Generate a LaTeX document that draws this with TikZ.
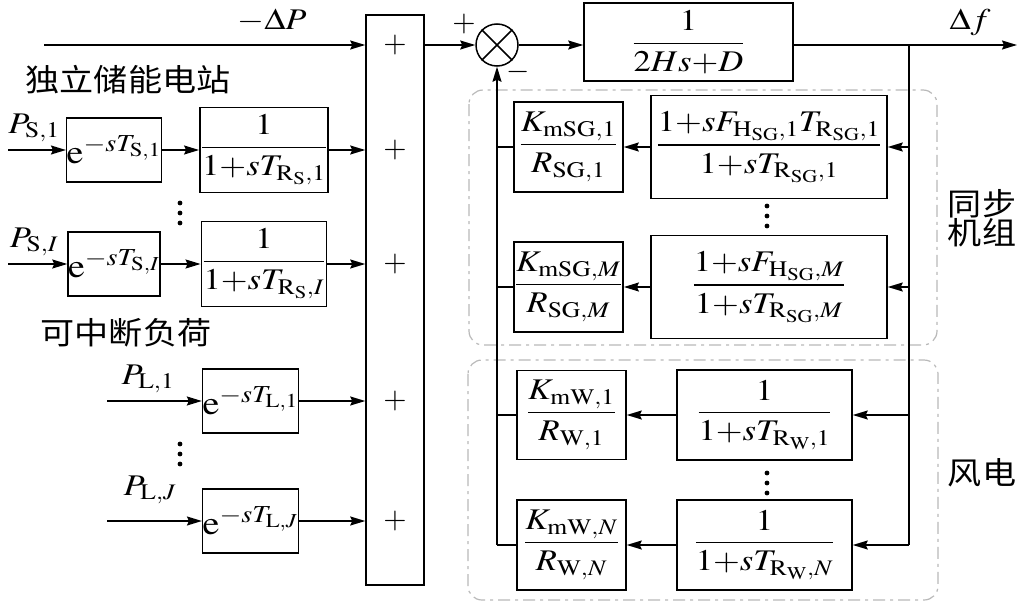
\documentclass[tikz,border=0pt]{standalone}
\usepackage{amsmath}
\usepackage{mathptmx}
\usepackage[no-math]{fontspec}
\usepackage{graphicx}
\newfontfamily\cjk[FakeStretch=1.1]{Noto Sans CJK SC}
\usetikzlibrary{arrows.meta}
\newcommand{\wx}[1]{\scalebox{1.15}[1]{#1}}
\medmuskip=0mu

\begin{document}
\begin{tikzpicture}[x=1pt, y=-1pt, line width=1.5pt,
    >={Stealth[length=15pt, width=9pt, inset=2pt]},
    every node/.style={font=\fontsize{30}{34}\selectfont},
    blk/.style={draw, inner sep=1pt},
    dly/.style={draw, minimum width=88pt, minimum height=64pt, inner sep=0pt, font=\fontsize{33}{36}\selectfont},
    grp/.style={draw=gray!55, line width=1.2pt, rounded corners=14pt, dash pattern=on 12pt off 5pt on 3pt off 5pt},
    cn/.style={font=\cjk\fontsize{31}{29}\selectfont, align=center}]
        \useasboundingbox (0,0) rectangle (1021,605);

        % --- Khối cộng ---
        \node[draw, minimum width=58pt, minimum height=570pt, inner sep=0pt] (sumblk) at (395,300) {};
        \foreach \yy/\nm in {45/p0, 150/p1, 264/p2, 401/p3, 521/p4}
            \node (\nm) at (395,\yy) {$+$};

        % --- Nhóm lưu trữ độc lập ---
        \coordinate (inP) at (44,45);
        \draw[->] (inP) -- (inP -| sumblk.west);
        \node[inner sep=0pt] (lblP) at (272,21) {\wx{$-\Delta P$}};

        \node[cn] (tS) at (128,80) {独立储能电站};
        \node[dly] (dS1) at (114,150) {\wx{$\mathrm{e}^{-sT_{\mathrm{S},1}}$}};
        \node[blk, minimum width=124pt, minimum height=85pt] (fS1) at (264,150) {\wx{$\dfrac{1}{1+sT_{\mathrm{R}_\mathrm{S},1}}$}};
        \node[dly] (dSI) at (114,264) {\wx{$\mathrm{e}^{-sT_{\mathrm{S},I}}$}};
        \node[blk, minimum width=124pt, minimum height=85pt] (fSI) at (264,264) {\wx{$\dfrac{1}{1+sT_{\mathrm{R}_\mathrm{S},I}}$}};
        \node (lS1) at (34,128) {\wx{$P_{\mathrm{S},1}$}};
        \node (lSI) at (34,242) {\wx{$P_{\mathrm{S},I}$}};
        \coordinate (inS1) at (8,150);
        \coordinate (inSI) at (8,264);
        \foreach \r in {S1, SI} {
            \draw[->] (in\r) -- (d\r);
            \draw[->] (d\r) -- (f\r);
            \draw[->] (f\r) -- (f\r -| sumblk.west);
        }

        % --- Phụ tải có thể cắt ---
        \node[cn] (tL) at (126,333) {可中断负荷};
        \node[dly, minimum width=87pt] (dL1) at (250.5,401) {\wx{$\mathrm{e}^{-sT_{\mathrm{L},1}}$}};
        \node[dly, minimum width=87pt] (dLJ) at (250.5,521) {\wx{$\mathrm{e}^{-sT_{\mathrm{L},J}}$}};
        \node (lL1) at (148,379) {\wx{$P_{\mathrm{L},1}$}};
        \node (lLJ) at (150,490) {\wx{$P_{\mathrm{L},J}$}};
        \coordinate (inL1) at (107,401);
        \coordinate (inLJ) at (107,521);
        \foreach \r in {L1, LJ} {
            \draw[->] (in\r) -- (d\r);
            \draw[->] (d\r) -- (d\r -| sumblk.west);
        }

        % --- Điểm so sánh và khâu quán tính ---
        \node[draw, circle, minimum size=42pt, inner sep=0pt] (sumc) at (497,45) {};
        \draw (sumc.45) -- (sumc.225) (sumc.135) -- (sumc.315);
        \node (sgP) at (464,24) {$+$};
        \node (sgM) at (518,72) {$-$};
        \node[blk, minimum width=209pt, minimum height=78pt] (G) at (688.5,42) {\wx{$\dfrac{1}{2Hs+D}$}};
        \draw[->] (sumblk.east |- sumc) -- (sumc);
        \draw[->] (sumc) -- (sumc -| G.west);
        \coordinate (out) at (1017,45);
        \coordinate (br) at (909,45);
        \draw[->] (G.east |- out) -- (out);
        \node[inner sep=0pt] (lf) at (970,22) {\wx{$\Delta f$}};

        % --- Máy phát đồng bộ ---
        \draw[grp] (469,90) rectangle (937,345);
        \node[blk, minimum width=236pt, minimum height=103pt] (SG1) at (769,147)
            {\wx{$\dfrac{1+sF_{\mathrm{H}_\mathrm{SG},1}T_{\mathrm{R}_\mathrm{SG},1}}{1+sT_{\mathrm{R}_\mathrm{SG},1}}$}};
        \node[blk, minimum width=109pt, minimum height=90pt] (SG1L) at (568.5,147) {\wx{$\dfrac{K_{\mathrm{mSG},1}}{R_{\mathrm{SG},1}}$}};
        \node[blk, minimum width=236pt, minimum height=103pt] (SGM) at (769,287)
            {\wx{$\dfrac{1+sF_{\mathrm{H}_\mathrm{SG},M}}{1+sT_{\mathrm{R}_\mathrm{SG},M}}$}};
        \node[blk, minimum width=109pt, minimum height=90pt] (SGML) at (568.5,287) {\wx{$\dfrac{K_{\mathrm{mSG},M}}{R_{\mathrm{SG},M}}$}};
        \node[cn] (tSG) at (982,218) {同步\\机组};

        % --- Điện gió ---
        \draw[grp] (468,360) rectangle (938,600);
        \node[blk, minimum width=175pt, minimum height=90pt] (W1) at (764.5,415) {\wx{$\dfrac{1}{1+sT_{\mathrm{R}_\mathrm{W},1}}$}};
        \node[blk, minimum width=109pt, minimum height=89pt] (W1L) at (571.5,415) {\wx{$\dfrac{K_{\mathrm{mW},1}}{R_{\mathrm{W},1}}$}};
        \node[blk, minimum width=175pt, minimum height=90pt] (WN) at (764.5,545) {\wx{$\dfrac{1}{1+sT_{\mathrm{R}_\mathrm{W},N}}$}};
        \node[blk, minimum width=109pt, minimum height=90pt] (WNL) at (571.5,545) {\wx{$\dfrac{K_{\mathrm{mW},N}}{R_{\mathrm{W},N}}$}};
        \node[cn] (tW) at (982,473) {风电};

        % --- Đường phản hồi ---
        \draw (br) -- (br |- WN);
        \foreach \g in {SG1, SGM, W1, WN} {
            \draw[->] (br |- \g) -- (\g);
            \draw[->] (\g) -- (\g L);
            \draw (\g L) -- (\g L -| sumc);
        }
        \draw[->] (sumc |- WNL) -- (sumc);

        % --- Dấu chấm ---
        \foreach \xx/\yy in {180/203, 180/444, 767/206, 767/473}
            \foreach \d in {0,1,2}
                \fill (\xx,\yy+\d*10) circle (2.4pt);
    \end{tikzpicture}
\end{document}
